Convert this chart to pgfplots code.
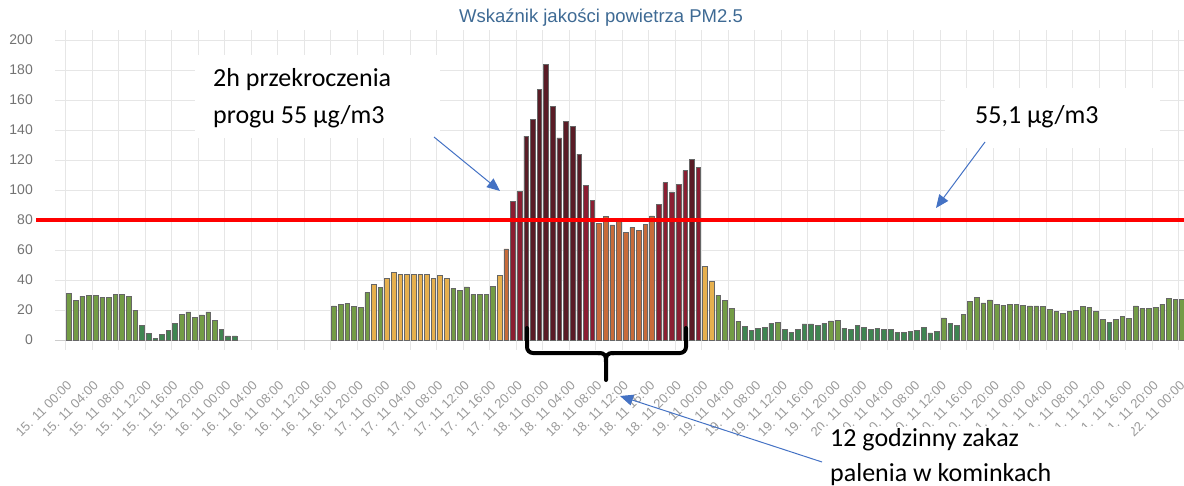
\documentclass[border=0pt]{standalone}
\usepackage{fontspec}
\setmainfont{Liberation Sans}
\newfontfamily\calibri{Carlito}
\usepackage{pgfplots}
\pgfplotsset{compat=1.18}
\usetikzlibrary{arrows.meta}
\definecolor{cDark}{HTML}{3F8551}
\definecolor{cOlive}{HTML}{739C45}
\definecolor{cYel}{HTML}{E6B04E}
\definecolor{cOra}{HTML}{C86B3A}
\definecolor{cRed}{HTML}{8B1E32}
\definecolor{cMar}{HTML}{5A1C26}
\definecolor{gridc}{HTML}{E6E6E6}
\definecolor{axisc}{HTML}{CCCCCC}
\definecolor{titlec}{HTML}{3E6A94}
\definecolor{arrc}{HTML}{4472C4}
\pgfplotsset{mybar/.style={ybar, bar width=0.7, bar shift=0pt, fill=#1, draw=black!60, line width=0.5pt}}
\begin{document}
\begin{tikzpicture}
\begin{axis}[
  scale only axis, width=1129pt, height=300pt,
  xmin=-2.113, xmax=168.3, ymin=0, ymax=200,
  axis line style={draw=none},
  clip=false,
  /pgf/number format/assume math mode=true,
  ytick={0,20,...,200},
  ymajorgrids, xminorgrids,
  major grid style={color=gridc, line width=0.8pt},
  minor grid style={color=gridc, line width=0.8pt},
  xtick={0,4,...,168},
  minor xtick={-0.5,3.5,...,167.5},
  xticklabels={15. 11 00:00,15. 11 04:00,15. 11 08:00,15. 11 12:00,15. 11 16:00,15. 11 20:00,
    16. 11 00:00,16. 11 04:00,16. 11 08:00,16. 11 12:00,16. 11 16:00,16. 11 20:00,
    17. 11 00:00,17. 11 04:00,17. 11 08:00,17. 11 12:00,17. 11 16:00,17. 11 20:00,
    18. 11 00:00,18. 11 04:00,18. 11 08:00,18. 11 12:00,18. 11 16:00,18. 11 20:00,
    19. 11 00:00,19. 11 04:00,19. 11 08:00,19. 11 12:00,19. 11 16:00,19. 11 20:00,
    20. 11 00:00,20. 11 04:00,20. 11 08:00,20. 11 12:00,20. 11 16:00,20. 11 20:00,
    21. 11 00:00,21. 11 04:00,21. 11 08:00,21. 11 12:00,21. 11 16:00,21. 11 20:00,
    22. 11 00:00},
  tick align=outside,
  major tick length=0pt,
  minor tick length=10pt,
  minor x tick style={draw=gridc, line width=0.8pt},
  y tick style={draw=none},
  major x tick style={draw=none},
  xticklabel style={font=\fontsize{13}{13}\selectfont, color=black!40, yshift=-40pt, xshift=-3pt, rotate=45, anchor=north east, inner sep=0pt},
  yticklabel style={font=\fontsize{14}{14}\selectfont, color=black!55, inner sep=0pt, xshift=-22pt, anchor=east},
]
\draw[color=axisc, line width=1pt] (axis cs:-2.113,0) -- (axis cs:168.3,0);
% dark green
\addplot[mybar=cDark] coordinates {(11,9.6)(12,4.4)(13,0.9)(14,3.8)(15,6.2)(16,11.1)(23,6.9)(24,2.7)(25,2.7)
 (102,8.9)(103,6.4)(104,7.8)(105,8.2)(106,11.1)(108,6.9)(109,5.1)(110,7.3)(111,10.7)(112,10.7)(113,9.6)(114,11.1)
 (117,8)(118,7.1)(119,9.6)(120,8.2)(121,7.1)(122,7.6)(123,7.1)(124,7.1)(125,5.1)(126,5.1)(127,6)(128,6.4)(129,8.2)
 (130,4.8)(131,5.8)(133,10.9)(134,9.8)(157,11.6)};
% olive green
\addplot[mybar=cOlive] coordinates {(0,31)(1,26.2)(2,29.3)(3,29.6)(4,30)(5,28.4)(6,28.4)(7,30.2)(8,30.2)(9,28.9)(10,20)
 (17,17.3)(18,18.7)(19,14.9)(20,16.7)(21,18.7)(22,12.9)
 (40,22.7)(41,23.6)(42,24.2)(43,22.2)(44,21.6)(45,31.6)(47,34.9)(58,34.4)(59,33.3)(60,35.5)(61,30.4)(62,30.4)(63,30.4)(64,36)
 (98,30)(99,26.4)(100,21.3)(101,12.4)(107,12)(115,12.7)(116,12.9)(132,14.7)(135,17.1)(136,26)(137,28.4)(138,24.7)(139,26.7)
 (140,24)(141,23.3)(142,23.6)(143,23.8)(144,23.3)(145,22.7)(146,22.7)(147,22.2)(148,20.2)(149,18.9)(150,18)(151,19.1)
 (152,19.6)(153,22.4)(154,22)(155,19.1)(156,13.8)(158,13.6)(159,16)(160,14.4)(161,22.7)(162,21.1)(163,21.1)(164,22)
 (165,24)(166,27.6)(167,27.1)(168,27.1)};
% yellow
\addplot[mybar=cYel] coordinates {(46,37.1)(48,40.9)(49,44.9)(50,43.6)(51,43.6)(52,43.6)(53,44)(54,44)(55,41.1)(56,42.9)(57,41.1)(65,43.3)(96,48.9)(97,38.9)};
% orange
\addplot[mybar=cOra] coordinates {(66,60.7)(80,77.8)(81,82.2)(82,76.7)(83,80.7)(84,71.8)(85,75.1)(86,73.1)(87,77.3)(88,82.7)};
% red
\addplot[mybar=cRed] coordinates {(67,92.2)(68,99.3)(78,103.3)(79,92.9)(89,90.2)(90,104.9)(91,98.7)(92,104)(93,112.9)(95,114.9)};
% maroon
\addplot[mybar=cMar] coordinates {(69,136)(70,147.1)(71,167.1)(72,183.8)(73,155.6)(74,134.7)(75,145.8)(76,142.2)(77,124)(94,120.4)};
% threshold line
\draw[color=red, line width=3.2pt] (axis cs:-4.98,80) -- (axis cs:168.3,80);
\end{axis}
% annotations in pixel coordinates (origin at image top-left)
\begin{scope}[shift={(-55pt,340pt)}, x=1pt, y=-1pt]
  \node[color=titlec, font=\fontsize{18.5}{18.5}\selectfont] at (601,18) {Wskaźnik jakości powietrza PM2.5};
  \fill[white] (195,55) rectangle (440,138);
  \fill[white] (945,88) rectangle (1160,148);
  \fill[white] (822,427) rectangle (1131,485);
  \node[anchor=west, font=\calibri\fontsize{26}{26}\selectfont, inner sep=0pt] at (213,80) {2h przekroczenia};
  \node[anchor=west, font=\calibri\fontsize{26}{26}\selectfont, inner sep=0pt] at (213,117) {progu 55 µg/m3};
  \node[anchor=west, font=\calibri\fontsize{26}{26}\selectfont, inner sep=0pt] at (975,117) {55,1 µg/m3};
  \node[anchor=west, font=\calibri\fontsize{26}{26}\selectfont, inner sep=0pt] at (830,440) {12 godzinny zakaz};
  \node[anchor=west, font=\calibri\fontsize{26}{26}\selectfont, inner sep=0pt] at (830,475) {palenia w kominkach};
  \draw[color=arrc, line width=1pt, -{Triangle[length=13pt, width=11pt]}] (434,137) -- (500,191);
  \draw[color=arrc, line width=1pt, -{Triangle[length=13pt, width=11pt]}] (985,142) -- (936,208);
  \draw[color=arrc, line width=1pt, -{Triangle[length=13pt, width=11pt]}] (822,462) -- (620,396);
  \draw[line width=4pt, line join=round, line cap=round, rounded corners=6pt]
     (527,328) -- (527,353) -- (600,353);
  \draw[line width=4pt, line join=round, line cap=round, rounded corners=6pt]
     (686,328) -- (686,353) -- (612,353);
  \draw[line width=4pt, line cap=round] (598,353) .. controls (606,353) and (606,356) .. (606,362) -- (606,380);
  \draw[line width=4pt, line cap=round] (614,353) .. controls (606,353) and (606,356) .. (606,362);
\end{scope}
\pgfresetboundingbox
\path (-55pt,340pt) rectangle (1129pt,-145pt);
\end{tikzpicture}
\end{document}
